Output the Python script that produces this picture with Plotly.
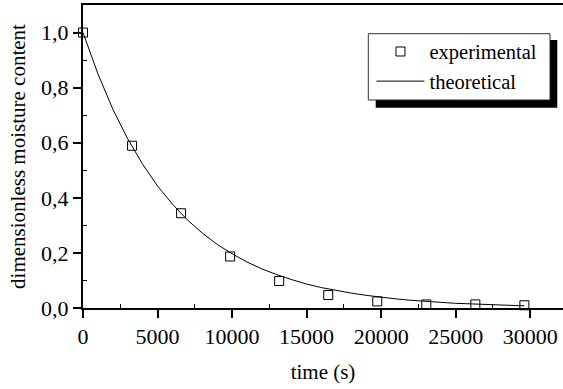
import plotly.graph_objects as go

# experimental data
exp_time = [0, 3290, 6580, 9870, 13160, 16450, 19740, 23030, 26320, 29610]
exp_moisture = [1.000, 0.589, 0.344, 0.187, 0.098, 0.047, 0.024, 0.013, 0.013, 0.010]

# theoretical curve
theo_time = [0, 1000, 2000, 3000, 4000, 5000, 6000, 7000, 8000, 9000, 10000,
             11000, 12000, 13000, 14000, 15000, 16000, 17000, 18000, 19000, 20000,
             21000, 22000, 23000, 24000, 25000, 26000, 27000, 28000, 29000, 29610]
theo_moisture = [1.000, 0.850, 0.722, 0.614, 0.522, 0.443, 0.377, 0.320, 0.272, 0.231, 0.197,
                 0.167, 0.142, 0.121, 0.103, 0.087, 0.074, 0.063, 0.054, 0.046, 0.039,
                 0.033, 0.028, 0.024, 0.020, 0.017, 0.015, 0.012, 0.011, 0.009, 0.008]

FONT = "Liberation Serif, Times New Roman, serif"

fig = go.Figure()
fig.add_trace(go.Scatter(
    x=exp_time, y=exp_moisture, mode="markers", name="experimental",
    marker=dict(symbol="square-open", size=9, color="black", line=dict(width=1)),
    cliponaxis=False,
))
fig.add_trace(go.Scatter(
    x=theo_time, y=theo_moisture, mode="lines", name="theoretical",
    line=dict(color="black", width=1), cliponaxis=False,
))

# legend shadow and box
fig.add_shape(type="rect", xref="paper", yref="paper",
              x0=0.6098, x1=0.9881, y0=0.6611, y1=0.8845,
              fillcolor="black", line=dict(width=0), layer="above")
fig.add_shape(type="rect", xref="paper", yref="paper",
              x0=0.5944, x1=0.9729, y0=0.6865, y1=0.9053,
              fillcolor="white", line=dict(color="#333", width=1), layer="above")

fig.update_layout(
    width=563, height=389,
    margin=dict(l=83, r=0, t=5, b=81),
    paper_bgcolor="white", plot_bgcolor="white",
    font=dict(family=FONT, size=21, color="black"),
    separators=",.",
    showlegend=True,
    legend=dict(x=0.601, y=0.912, xanchor="left", yanchor="top",
                bgcolor="rgba(0,0,0,0)", borderwidth=0,
                font=dict(family=FONT, size=20.5), itemwidth=48,
                tracegroupgap=0),
    xaxis=dict(
        range=[0, 32200], showgrid=False, zeroline=False, automargin=False,
        showline=True, linecolor="black", linewidth=2, mirror=True,
        ticks="outside", ticklen=8, tickwidth=1.5, tickcolor="black",
        tickvals=[0, 5000, 10000, 15000, 20000, 25000, 30000], tickformat="d",
        minor=dict(ticks="inside", ticklen=4, tickwidth=1, tickcolor="black",
                   tickvals=[2500, 7500, 12500, 17500, 22500, 27500]),
        title=dict(text="time (s)", font=dict(size=21), standoff=16),
        tickfont=dict(size=22),
    ),
    yaxis=dict(
        range=[0, 1.1], showgrid=False, zeroline=False, automargin=False,
        showline=True, linecolor="black", linewidth=2,
        ticks="outside", ticklen=8, tickwidth=1.5, tickcolor="black",
        tickvals=[0, 0.2, 0.4, 0.6, 0.8, 1.0], tickformat=".1f",
        minor=dict(ticks="inside", ticklen=4, tickwidth=1, tickcolor="black",
                   tickvals=[0.1, 0.3, 0.5, 0.7, 0.9]),
        title=dict(text="dimensionless moisture content", font=dict(size=21), standoff=10),
        tickfont=dict(size=22),
    ),
)

fig.write_html("out.html", config={"displayModeBar": False},
               post_script="document.body.style.margin='0';")
